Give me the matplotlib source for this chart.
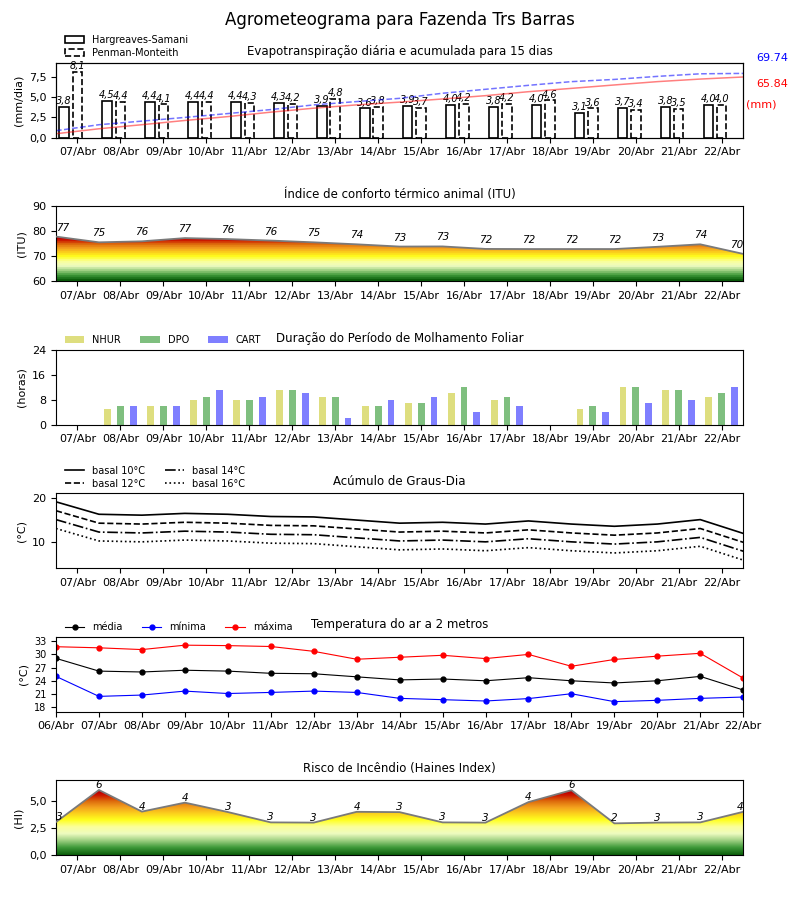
#Agrometeograma - evapotranspiração, ITU, molhamento, graus-dia, temperatura e Haines
import numpy as np
import matplotlib
matplotlib.use('Agg')
import matplotlib.pyplot as plt
from matplotlib.colors import LinearSegmentedColormap
from matplotlib.patches import Polygon, Patch
from matplotlib.ticker import FuncFormatter

#Dados===========================================================#
dias = ['07/Abr', '08/Abr', '09/Abr', '10/Abr', '11/Abr', '12/Abr', '13/Abr', '14/Abr',
        '15/Abr', '16/Abr', '17/Abr', '18/Abr', '19/Abr', '20/Abr', '21/Abr', '22/Abr']
dias_temp = ['06/Abr'] + dias

et_hs = [3.8, 4.5, 4.4, 4.4, 4.4, 4.3, 3.9, 3.6, 3.9, 4.0, 3.8, 4.0, 3.1, 3.7, 3.8, 4.0]
et_pm = [8.1, 4.4, 4.1, 4.4, 4.3, 4.2, 4.8, 3.8, 3.7, 4.2, 4.2, 4.6, 3.6, 3.4, 3.5, 4.0]
acum_hs = [4.3, 9.7, 14.1, 18.7, 22.9, 27.7, 32.0, 35.6, 38.6, 42.0, 45.6, 49.9, 53.5, 57.2, 60.8, 63.6, 65.84]
acum_pm = [7.6, 14.1, 18.0, 22.0, 26.2, 30.5, 35.6, 39.2, 42.7, 48.2, 52.5, 56.8, 60.8, 63.2, 66.5, 69.3, 69.74]

itu = [77.9, 75.6, 76.0, 77.3, 76.9, 76.3, 75.6, 74.8, 73.9, 73.95, 72.95, 72.9, 72.9, 72.9, 73.8, 74.8, 70.95]

nhur = [0, 5, 6, 8, 8, 11, 9, 6, 7, 10, 8, 0, 5, 12, 11, 9]
dpo = [0, 6, 6, 9, 8, 11, 9, 6, 7, 12, 9, 0, 6, 12, 11, 10]
cart = [0, 6, 6, 11, 9, 10, 2, 8, 9, 4, 6, 0, 4, 7, 8, 12]

gd10 = [19.1, 16.3, 16.1, 16.5, 16.3, 15.8, 15.7, 15.0, 14.3, 14.5, 14.1, 14.8, 14.1, 13.6, 14.1, 15.1, 12.0]
gd12 = [17.1, 14.3, 14.1, 14.5, 14.3, 13.8, 13.7, 13.0, 12.3, 12.5, 12.1, 12.8, 12.1, 11.6, 12.1, 13.1, 10.0]
gd14 = [15.1, 12.3, 12.1, 12.5, 12.3, 11.8, 11.7, 11.0, 10.3, 10.5, 10.1, 10.8, 10.1, 9.6, 10.1, 11.1, 8.0]
gd16 = [13.1, 10.3, 10.1, 10.5, 10.3, 9.8, 9.7, 9.0, 8.3, 8.5, 8.1, 8.8, 8.1, 7.6, 8.1, 9.1, 6.0]

t_med = [29.1, 26.2, 26.0, 26.4, 26.2, 25.7, 25.6, 24.9, 24.2, 24.4, 24.0, 24.7, 24.0, 23.5, 24.0, 25.0, 21.9]
t_min = [25.0, 20.45, 20.75, 21.65, 21.1, 21.35, 21.65, 21.35, 20.0, 19.7, 19.4, 19.95, 21.05, 19.25, 19.55, 20.0, 20.3]
t_max = [31.75, 31.5, 31.1, 32.1, 32.0, 31.8, 30.7, 28.9, 29.35, 29.8, 29.05, 30.0, 27.3, 28.85, 29.6, 30.25, 24.6]

haines = [3.05, 6.02, 4.02, 4.85, 3.98, 3.02, 3.0, 4.0, 3.97, 3.02, 3.0, 4.9, 6.0, 2.93, 3.0, 3.02, 4.0]

cores_risco = ['#0b5e0b', '#3f9a3a', '#a6d488', '#eefbc0', '#fbff9a', '#ffff1e',
               '#fcd21c', '#f3a11e', '#dd6a0c', '#cc1a00', '#c00000']
pos_risco = [0.0, 0.12, 0.24, 0.34, 0.45, 0.56, 0.66, 0.76, 0.86, 0.95, 1.0]

virgula = FuncFormatter(lambda v, p: f'{v:.1f}'.replace('.', ','))


def preenche_gradiente(ax, y, ymin, ymax, vmin, vmax, n):
    x = np.arange(len(y))
    cmap = LinearSegmentedColormap.from_list('risco', list(zip(pos_risco, cores_risco)), N=n)
    grad = np.linspace(ymin, ymax, 500).reshape(-1, 1)
    im = ax.imshow(grad, extent=[x[0], x[-1], ymin, ymax], origin='lower', aspect='auto',
                   cmap=cmap, vmin=vmin, vmax=vmax, zorder=1)
    verts = np.column_stack([np.r_[x[0], x, x[-1]], np.r_[ymin, y, ymin]])
    poly = Polygon(verts, closed=True, facecolor='none', edgecolor='none')
    ax.add_patch(poly)
    im.set_clip_path(poly)
    ax.plot(x, y, color='#7a7a7a', lw=1.3, zorder=3)
    ax.set_xlim(0, len(y) - 1)
    ax.set_ylim(ymin, ymax)


def rotulos(ax, y, dy):
    n = len(y)
    for i, v in enumerate(y):
        ha = 'left' if i == 0 else ('right' if i == n - 1 else 'center')
        ax.text(i, v + dy, str(int(v)), ha=ha, va='bottom', fontsize=7.5, style='italic', zorder=4)


def eixo_dias(ax):
    ax.set_xlim(0, 16)
    ax.set_xticks(np.arange(len(dias)) + 0.5)
    ax.set_xticklabels(dias, fontsize=8)


fig, axs = plt.subplots(6, 1, figsize=(8, 9))
fig.subplots_adjust(left=0.07, right=0.929, top=0.93, bottom=0.05, hspace=0.92)
fig.suptitle('Agrometeograma para Fazenda Trs Barras', fontsize=12, y=0.988)

#Evapotranspiração===============================================#
ax = axs[0]
x = np.arange(len(et_hs)) + 0.5
ax.bar(x - 0.31, et_hs, width=0.22, facecolor='white', edgecolor='black', lw=1.2, zorder=3)
ax.bar(x, et_pm, width=0.22, facecolor='white', edgecolor='black', lw=1.2, linestyle='--', zorder=3)
for xi, h in zip(x - 0.31, et_hs):
    ax.text(xi, h + 0.1, f'{h:.1f}'.replace('.', ','), ha='center', va='bottom', fontsize=7, style='italic')
for xi, h in zip(x, et_pm):
    ax.text(xi, h + 0.1, f'{h:.1f}'.replace('.', ','), ha='center', va='bottom', fontsize=7, style='italic')
eixo_dias(ax)
ax.set_ylim(0, 9.2)
ax.set_yticks([0, 2.5, 5, 7.5])
ax.yaxis.set_major_formatter(virgula)
ax.tick_params(axis='y', labelsize=8)
ax.set_ylabel('(mm/dia)', fontsize=8)
ax.set_title('Evapotranspiração diária e acumulada para 15 dias', fontsize=8.5)
tw = ax.twinx()
tw.plot(np.arange(len(acum_pm)), acum_pm, '--', color='blue', alpha=0.55, lw=1.1)
tw.plot(np.arange(len(acum_hs)), acum_hs, '-', color='red', alpha=0.5, lw=1.1)
tw.set_ylim(0, acum_pm[-1] * 9.2 / 7.92)
tw.set_yticks([])
ax.text(1.019, 1.067, f'{acum_pm[-1]:.2f}', color='blue', fontsize=8, transform=ax.transAxes, va='center')
ax.text(1.019, 0.72, f'{acum_hs[-1]:.2f}', color='red', fontsize=8, transform=ax.transAxes, va='center')
ax.text(1.004, 0.44, '(mm)', color='red', fontsize=8, transform=ax.transAxes, va='center')
leg = [Patch(facecolor='white', edgecolor='black', lw=1.2, label='Hargreaves-Samani'),
       Patch(facecolor='white', edgecolor='black', lw=1.2, linestyle='--', label='Penman-Monteith')]
ax.legend(handles=leg, loc='lower left', bbox_to_anchor=(0.006, 1.0), frameon=False, fontsize=7,
          borderaxespad=0.1, labelspacing=0.3)

#ITU==============================================================#
ax = axs[1]
preenche_gradiente(ax, itu, 60, 90, 60, 77.5, 22)
rotulos(ax, itu, 1.6)
ax.set_xticks(np.arange(len(dias)) + 0.5)
ax.set_xticklabels(dias, fontsize=8)
ax.set_yticks([60, 70, 80, 90])
ax.tick_params(axis='y', labelsize=8)
ax.set_ylabel('(ITU)', fontsize=8)
ax.set_title('Índice de conforto térmico animal (ITU)', fontsize=8.5)

#Molhamento foliar================================================#
ax = axs[2]
x = np.arange(len(nhur)) + 0.5
ax.bar(x - 0.3, nhur, width=0.16, color='y', alpha=0.5, label='NHUR')
ax.bar(x, dpo, width=0.16, color='g', alpha=0.5, label='DPO')
ax.bar(x + 0.3, cart, width=0.16, color='b', alpha=0.5, label='CART')
eixo_dias(ax)
ax.set_ylim(0, 24)
ax.set_yticks([0, 8, 16, 24])
ax.tick_params(axis='y', labelsize=8)
ax.set_ylabel('(horas)', fontsize=8)
ax.set_title('Duração do Período de Molhamento Foliar', fontsize=8.5)
ax.legend(loc='lower left', bbox_to_anchor=(0.006, 1.0), ncol=3, frameon=False, fontsize=7, borderaxespad=0.1)

#Graus-dia========================================================#
ax = axs[3]
xg = np.arange(len(gd10))
ax.plot(xg, gd10, '-', color='black', lw=1.2, label='basal 10°C')
ax.plot(xg, gd12, '--', color='black', lw=1.2, label='basal 12°C')
ax.plot(xg, gd14, '-.', color='black', lw=1.2, label='basal 14°C')
ax.plot(xg, gd16, ':', color='black', lw=1.2, label='basal 16°C')
eixo_dias(ax)
ax.set_ylim(min(gd16) - 1.8, max(gd10) + 1.9)
ax.set_yticks([10, 20])
ax.tick_params(axis='y', labelsize=8)
ax.set_ylabel('(°C)', fontsize=8)
ax.set_title('Acúmulo de Graus-Dia', fontsize=8.5)
ax.legend(loc='lower left', bbox_to_anchor=(0.006, 1.0), ncol=2, frameon=False, fontsize=7,
          borderaxespad=0.1, labelspacing=0.3)

#Temperatura======================================================#
ax = axs[4]
xt = np.arange(len(t_med))
ax.plot(xt, t_med, 'o-', color='black', lw=0.8, ms=3.5, label='média')
ax.plot(xt, t_min, 'o-', color='blue', lw=0.8, ms=3.5, label='mínima')
ax.plot(xt, t_max, 'o-', color='red', lw=0.8, ms=3.5, label='máxima')
ax.set_xlim(0, 16)
ax.set_xticks(xt)
ax.set_xticklabels(dias_temp, fontsize=8)
ax.set_ylim(17, 34)
ax.set_yticks([18, 21, 24, 27, 30, 33])
ax.tick_params(axis='y', labelsize=7)
ax.set_ylabel('(°C)', fontsize=8)
ax.set_title('Temperatura do ar a 2 metros', fontsize=8.5)
ax.legend(loc='lower left', bbox_to_anchor=(0.006, 1.0), ncol=3, frameon=False, fontsize=7, borderaxespad=0.1)

#Haines===========================================================#
ax = axs[5]
preenche_gradiente(ax, haines, 0, 6.92, 0, 5.8, 256)
rotulos(ax, haines, 0.0)
ax.set_xticks(np.arange(len(dias)) + 0.5)
ax.set_xticklabels(dias, fontsize=8)
ax.set_yticks([0, 2.5, 5])
ax.yaxis.set_major_formatter(virgula)
ax.tick_params(axis='y', labelsize=8)
ax.set_ylabel('(HI)', fontsize=8)
ax.set_title('Risco de Incêndio (Haines Index)', fontsize=8.5)

plt.savefig('out.png', dpi=100)
